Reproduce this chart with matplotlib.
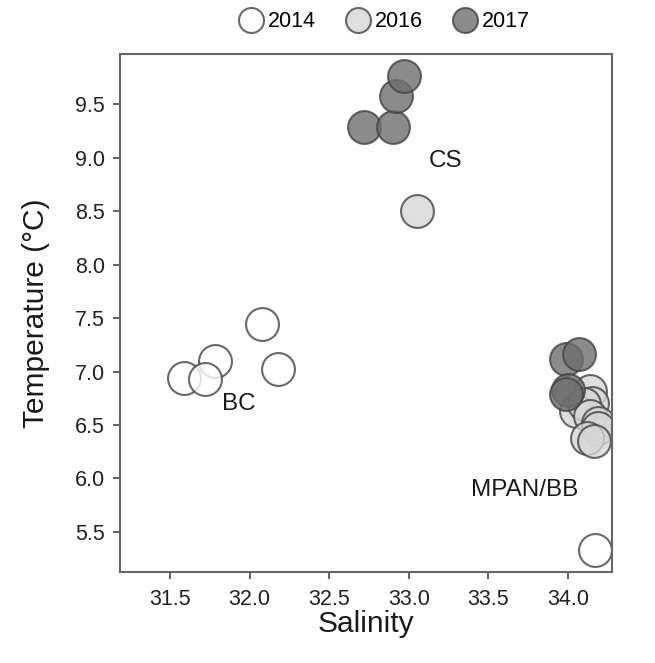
import matplotlib
matplotlib.use("Agg")
import matplotlib.pyplot as plt
from matplotlib.lines import Line2D

plt.rcParams['font.family'] = ['Liberation Sans', 'DejaVu Sans']

# datos
sal_2014 = [31.59, 31.78, 31.72, 32.08, 32.18, 34.17]
temp_2014 = [6.94, 7.10, 6.93, 7.44, 7.02, 5.33]

sal_2016 = [33.05, 34.14, 34.15, 34.05, 34.10, 34.14, 34.19, 34.19, 34.12, 34.16]
temp_2016 = [8.50, 6.82, 6.71, 6.63, 6.70, 6.58, 6.52, 6.47, 6.38, 6.35]

sal_2017 = [32.72, 32.90, 32.92, 32.97, 33.99, 34.07, 34.00, 33.99]
temp_2017 = [9.29, 9.29, 9.58, 9.76, 7.12, 7.16, 6.83, 6.79]

years = ['2014', '2016', '2017']
fills = ['#ffffff', '#d6d6d6', '#6e6e6e']

region_names = ['CS', 'BC', 'MPAN/BB']
region_x = [33.23, 31.93, 33.73]
region_y = [8.97, 6.70, 5.89]

W, H = 655, 663
fig = plt.figure(figsize=(W / 100, H / 100), dpi=100)
ax = fig.add_axes([120 / W, (H - 572) / H, 492 / W, 518 / H])

for sal, temp, col in zip([sal_2014, sal_2016, sal_2017],
                          [temp_2014, temp_2016, temp_2017], fills):
    ax.scatter(sal, temp, s=560, facecolor=col, edgecolor='#444444',
               linewidth=1.5, alpha=0.8, zorder=3)

for name, x, y in zip(region_names, region_x, region_y):
    ax.text(x, y, name, fontsize=17.5, color='#1a1a1a', ha='center', va='center')

ax.set_xlim(31.186, 34.276)
ax.set_ylim(5.125, 9.97)
ax.set_xticks([31.5, 32.0, 32.5, 33.0, 33.5, 34.0])
ax.set_yticks([5.5, 6.0, 6.5, 7.0, 7.5, 8.0, 8.5, 9.0, 9.5])
ax.xaxis.set_major_formatter(plt.FormatStrFormatter('%.1f'))
ax.yaxis.set_major_formatter(plt.FormatStrFormatter('%.1f'))

for sp in ax.spines.values():
    sp.set_color('#666666')
    sp.set_linewidth(1.5)
    sp.set_zorder(4)
ax.tick_params(colors='#666666', width=1.5, length=5, labelsize=15.5,
               labelcolor='#222222')
ax.tick_params(axis='x', pad=7)
ax.tick_params(axis='y', pad=6)

ax.set_xlabel('Salinity', fontsize=21.5, color='#1a1a1a', labelpad=0)
ax.set_ylabel('Temperature (°C)', fontsize=21.5, color='#1a1a1a', labelpad=18)

handles = [Line2D([], [], marker='o', linestyle='', markersize=18,
                  markerfacecolor=c, markeredgecolor='#444444',
                  markeredgewidth=1.5, alpha=0.8) for c in fills]
fig.legend(handles, years, loc='center', bbox_to_anchor=(0.5885, 0.967),
           ncol=3, frameon=False, fontsize=15.5, handletextpad=0.29,
           columnspacing=1.45, handlelength=1.0)

fig.savefig('out.png', dpi=100)
